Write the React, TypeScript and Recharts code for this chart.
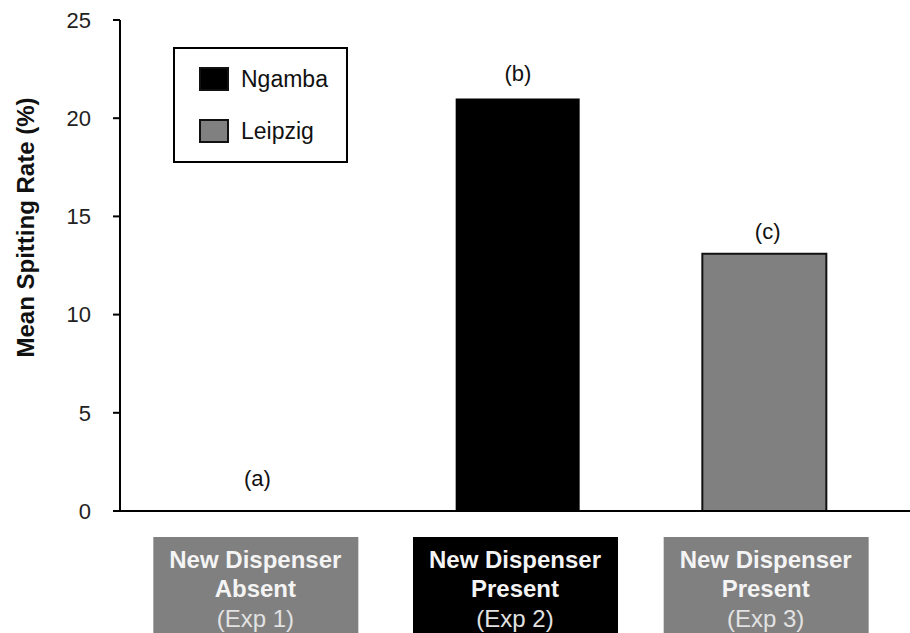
import React from "react";
import { ComposedChart, Bar, Line, XAxis, YAxis, LabelList } from "recharts";

// Data
const categories = ["Exp 1", "Exp 2", "Exp 3"];
const ngamba = [0, 21, null];
const leipzig = [null, null, 13.1];
const letters = ["(a)", "(b)", "(c)"];
const conditionLines = [
  ["New Dispenser", "Absent"],
  ["New Dispenser", "Present"],
  ["New Dispenser", "Present"],
];
const yTicks = [0, 5, 10, 15, 20, 25];
const legendNames = ["Ngamba", "Leipzig"];
const legendColors = ["#000000", "#808080"];

const data = categories.map((c, i) => ({
  name: c,
  ngamba: ngamba[i],
  leipzig: leipzig[i],
  // top of each bar, used only to anchor the letter labels
  top: (ngamba[i] ?? 0) + (leipzig[i] ?? 0),
  letter: letters[i],
}));

const FONT = "'Liberation Sans', Arial, sans-serif";
const boxFill = ["#808080", "#000000", "#808080"];
// small nudges so the hand-placed boxes/letters of the original line up
const boxDx = [-16, -3, 1];
const letterDx = [-14, 0, 3];
const letterDy = [-33, -25, -22];

function CategoryTick(props: any) {
  const { x, payload } = props;
  const i = payload.index;
  const cx = x + boxDx[i];
  const top = 537;
  return (
    <g>
      <rect x={cx - 102} y={top} width={205} height={110} fill={boxFill[i]} />
      <text x={cx} y={top + 31} textAnchor="middle" fill="#f4f4f4" fontFamily={FONT} fontWeight="bold" fontSize={24}>
        {conditionLines[i][0]}
      </text>
      <text x={cx} y={top + 60} textAnchor="middle" fill="#f4f4f4" fontFamily={FONT} fontWeight="bold" fontSize={24}>
        {conditionLines[i][1]}
      </text>
      <text x={cx} y={top + 90} textAnchor="middle" fill="#e2e2e2" fontFamily={FONT} fontSize={24}>
        ({payload.value})
      </text>
    </g>
  );
}

function LetterLabel(props: any) {
  const { x, y, value, index } = props;
  return (
    <text
      x={x + letterDx[index]}
      y={y + letterDy[index]}
      textAnchor="middle"
      dominantBaseline="central"
      fontFamily={FONT}
      fontSize={22}
      fill="#111"
    >
      {value}
    </text>
  );
}

function LegendBox() {
  return (
    <div
      style={{
        position: "absolute",
        left: 173,
        top: 47,
        width: 175,
        height: 116,
        border: "2px solid #000",
        background: "#fff",
        boxSizing: "border-box",
        paddingTop: 17,
        paddingLeft: 24,
        fontFamily: FONT,
      }}
    >
      {legendNames.map((name, k) => (
        <div key={name} style={{ display: "flex", alignItems: "center", height: 26, marginBottom: k === 0 ? 26 : 0 }}>
          <span
            style={{
              display: "inline-block",
              width: 30,
              height: 24,
              background: legendColors[k],
              border: "2px solid #111",
              boxSizing: "border-box",
            }}
          />
          <span style={{ marginLeft: 12, fontSize: 23, color: "#111" }}>{name}</span>
        </div>
      ))}
    </div>
  );
}

export default function App() {
  return (
    <div style={{ position: "absolute", left: 0, top: 0, width: 910, height: 633, background: "#fff", overflow: "hidden" }}>
      <ComposedChart width={910} height={633} data={data} margin={{ top: 20, right: 0, bottom: 0, left: 0 }}>
        <XAxis
          dataKey="name"
          height={122}
          padding={{ left: 28, right: 22 }}
          axisLine={{ stroke: "#000", strokeWidth: 2 }}
          tickLine={false}
          tickSize={0}
          tick={<CategoryTick />}
          interval={0}
        />
        <YAxis
          width={120}
          domain={[0, 25]}
          ticks={yTicks}
          axisLine={{ stroke: "#000", strokeWidth: 2 }}
          tickLine={{ stroke: "#000", strokeWidth: 2 }}
          tickSize={7}
          tickMargin={22}
          tick={{ fill: "#222", fontSize: 22, fontFamily: FONT }}
          label={{
            value: "Mean Spitting Rate (%)",
            angle: -90,
            position: "insideLeft",
            dx: 20,
            dy: -38,
            style: { textAnchor: "middle", fontFamily: FONT, fontWeight: "bold", fontSize: 24, fill: "#111" },
          }}
        />
        <Bar dataKey="ngamba" name="Ngamba" stackId="s" fill="#000000" barSize={124} isAnimationActive={false} />
        <Bar
          dataKey="leipzig"
          name="Leipzig"
          stackId="s"
          fill="#808080"
          stroke="#111"
          strokeWidth={2}
          barSize={124}
          isAnimationActive={false}
        />
        <Line dataKey="top" stroke="none" dot={false} activeDot={false} legendType="none" isAnimationActive={false}>
          <LabelList dataKey="letter" content={<LetterLabel />} />
        </Line>
      </ComposedChart>
      <LegendBox />
    </div>
  );
}
